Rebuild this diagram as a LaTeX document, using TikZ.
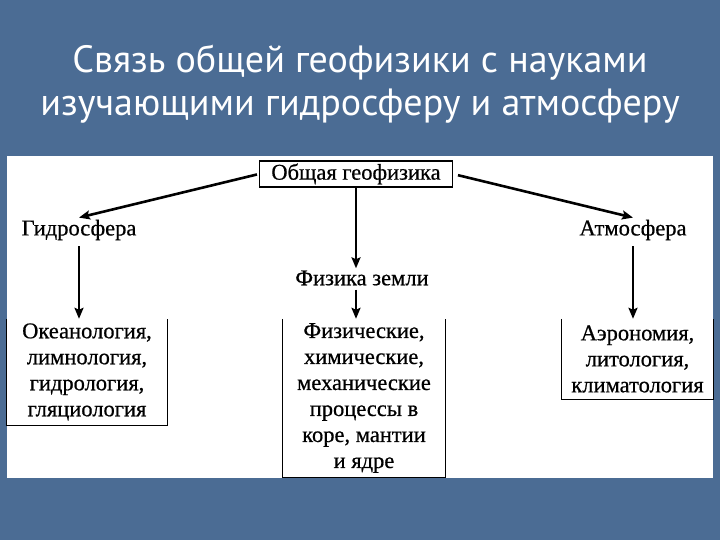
\documentclass[tikz,border=0pt]{standalone}
\usepackage{fontspec}
\setmainfont{Liberation Serif}
\newfontfamily\boxfont[FakeBold=0.6]{Liberation Serif}
\newfontfamily\titlefont{PT Sans}
\usetikzlibrary{arrows.meta}
\definecolor{bgblue}{RGB}{75,108,148}
\tikzset{
  lbl/.style={font=\boxfont\fontsize{22.5}{26}\selectfont, inner sep=2pt},
  topbox/.style={draw, line width=1.2pt, font=\boxfont\fontsize{22.5}{26}\selectfont, minimum width=193pt, minimum height=26pt, inner sep=0pt},
  txtbox/.style={font=\boxfont\fontsize{22.5}{26}\selectfont, align=center, inner sep=0pt},
  side/.style={line width=1.3pt},
  arr/.style={line width=2.6pt, -{Stealth[length=11pt,width=9pt,inset=2pt]}},
  ttl/.style={font=\titlefont\fontsize{38}{43}\selectfont, align=center, text=white}
}
\begin{document}
\begin{tikzpicture}[x=1pt,y=-1pt]
\useasboundingbox (0,0) rectangle (720,540);
% background
\fill[bgblue] (0,0) rectangle (720,540);
% title
\node[ttl] (title) at (360,84) {Связь общей геофизики с науками\\изучающими гидросферу и атмосферу};
% panel
\fill[white] (7,156) rectangle (713,478);
% nodes
\node[topbox] (top) at (356,174) {Общая геофизика};
\node[lbl] (hydro) at (79,230) {Гидросфера};
\node[lbl] (atmo) at (633,230) {Атмосфера};
\node[lbl] (phys) at (362,278) {Физика земли};
\node[txtbox, minimum width=160pt, minimum height=106pt] (b1) at (87,372) {Океанология,\\лимнология,\\гидрология,\\гляциология};
\node[txtbox, minimum width=162pt, minimum height=158pt] (b2) at (364,398) {Физические,\\химические,\\механические\\процессы в\\коре, мантии\\и ядре};
\node[txtbox, minimum width=151pt, minimum height=80pt] (b3) at (637.5,359) {Аэрономия,\\литология,\\климатология};
% box sides (no top edge)
\draw[side] (b1.north west) -- (b1.south west) -- (b1.south east) -- (b1.north east);
\draw[side] (b2.north west) -- (b2.south west) -- (b2.south east) -- (b2.north east);
\draw[side] (b3.north west) -- (b3.south west) -- (b3.south east) -- (b3.north east);
% connectors
\draw[arr, shorten <=2pt] (top.west) -- (hydro.north);
\draw[arr, shorten <=5pt] (top.east) -- (atmo.north);
\draw[arr] (top.south) -- (top.south |- phys.north);
\draw[arr, shorten <=2pt] (top.south |- phys.south) -- (top.south |- b2.north);
\draw[arr, shorten <=4pt] (hydro.south) -- (hydro.south |- b1.north);
\draw[arr, shorten <=4pt] (atmo.south) -- (atmo.south |- b3.north);
\end{tikzpicture}
\end{document}
